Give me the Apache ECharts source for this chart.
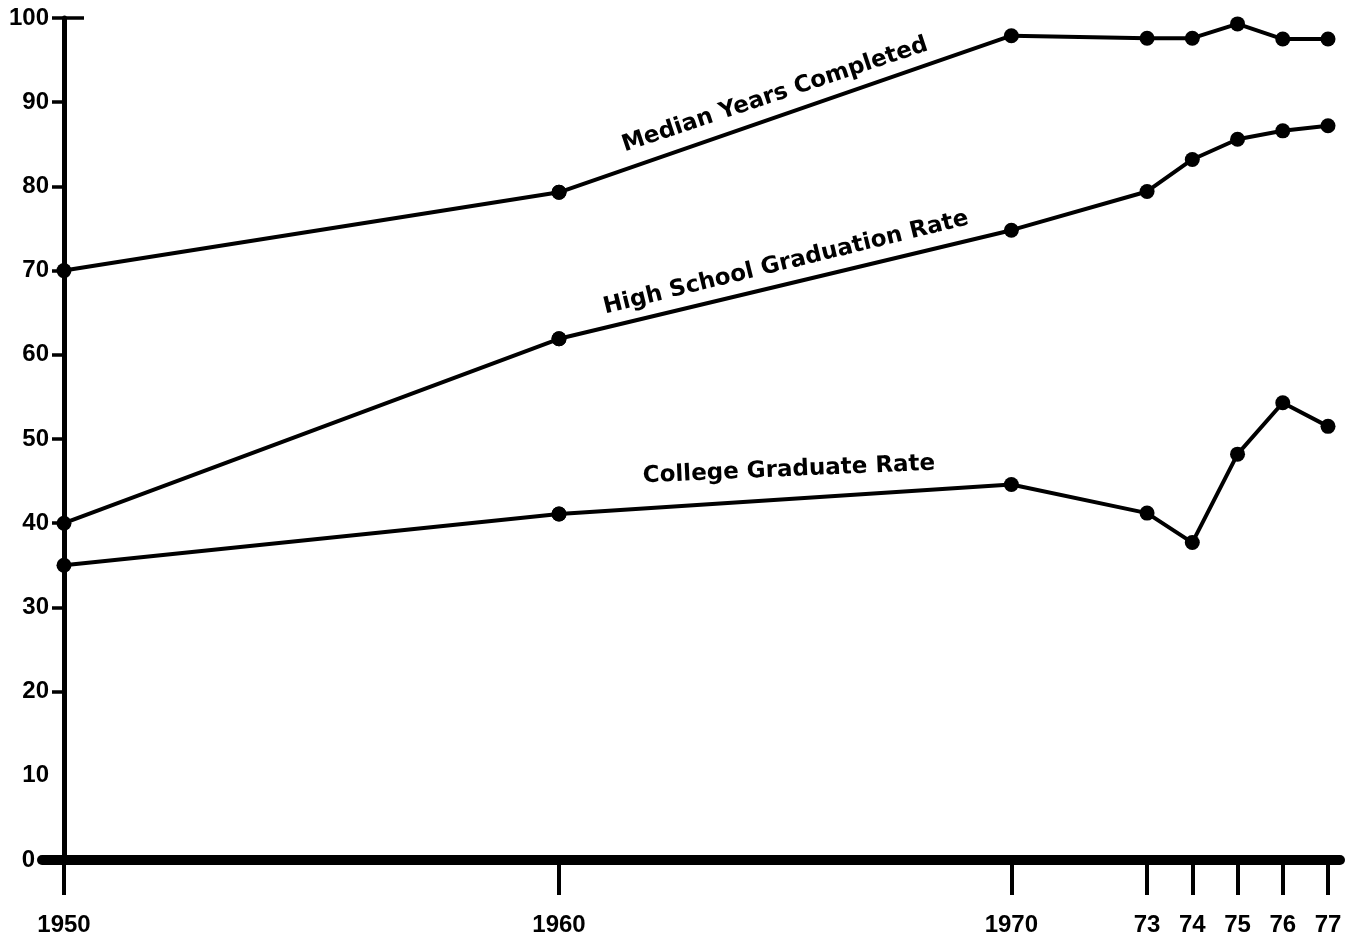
<!DOCTYPE html>
<html>
<head>
<meta charset="utf-8">
<script src="https://cdn.jsdelivr.net/npm/echarts@6/dist/echarts.min.js"></script>
<style>
  html, body { margin: 0; padding: 0; background: #fff; }
  #chart { width: 1355px; height: 942px; }
</style>
</head>
<body>
<div id="chart"></div>
<script>
// ---- data ----
const years = [1950, 1960, 1970, 1973, 1974, 1975, 1976, 1977];
const medianYearsCompleted = [70, 79.3, 97.9, 97.6, 97.6, 99.3, 97.5, 97.5];
const highSchoolGraduationRate = [40, 61.9, 74.8, 79.4, 83.2, 85.6, 86.6, 87.2];
const collegeGraduateRate = [35, 41.1, 44.6, 41.2, 37.7, 48.2, 54.3, 51.5];
const xTicksEarly = [1950, 1960];
const xTicksLate = [1970, 1973, 1974, 1975, 1976, 1977];
const yTickLabels = [0, 10, 20, 30, 40, 50, 60, 70, 80, 90, 100];
const yTickMarks = [0, 20, 30, 40, 50, 60, 70, 80, 90, 100];
const yTopCross = [100];
const seriesNames = ['Median Years Completed', 'High School Graduation Rate', 'College Graduate Rate'];
const seriesValues = [medianYearsCompleted, highSchoolGraduationRate, collegeGraduateRate];

// ---- chart ----
const chart = echarts.init(document.getElementById('chart'), null, { renderer: 'canvas' });
const labelFont = { fontFamily: 'Liberation Sans', fontWeight: 'bold', fontSize: 24, color: '#000' };

function pairs(vals, from, to) {
  const out = [];
  years.forEach((y, i) => { if (y >= from && y <= to) out.push([y, vals[i]]); });
  return out;
}

const series = [];
seriesValues.forEach((vals, k) => {
  [[0, 1950, 1960], [1, 1960, 1977]].forEach(([gi, a, b]) => {
    series.push({
      name: seriesNames[k],
      type: 'line',
      xAxisIndex: gi,
      yAxisIndex: gi,
      data: pairs(vals, a, b),
      symbol: 'circle',
      symbolSize: 15,
      lineStyle: { color: '#000', width: 4 },
      itemStyle: { color: '#000' },
      silent: true,
      animation: false,
      z: 5
    });
  });
});

const yearFmt = v => (v > 1970 ? String(v).slice(2) : String(v));
const yFmt = v => (v === 0 ? '{z|0}' : String(v));

chart.setOption({
  backgroundColor: '#fff',
  animation: false,
  grid: [
    { left: 42, top: 18, width: 517, bottom: 82 },
    { left: 559, top: 18, width: 781, bottom: 82 }
  ],
  xAxis: [
    {
      type: 'value', gridIndex: 0, min: 1949.556, max: 1960,
      axisLine: { show: true, onZero: false, lineStyle: { color: '#000', width: 10 } },
      axisTick: { show: true, customValues: xTicksEarly, length: 35, lineStyle: { color: '#000', width: 4 } },
      axisLabel: Object.assign({ customValues: xTicksEarly, margin: 53, formatter: yearFmt }, labelFont),
      splitLine: { show: false }
    },
    {
      type: 'value', gridIndex: 1, min: 1960, max: 1977.265,
      axisLine: { show: true, onZero: false, lineStyle: { color: '#000', width: 10 } },
      axisTick: { show: true, customValues: xTicksLate, length: 35, lineStyle: { color: '#000', width: 4 } },
      axisLabel: Object.assign({ customValues: xTicksLate, margin: 53, formatter: yearFmt }, labelFont),
      splitLine: { show: false }
    }
  ],
  yAxis: [
    {
      type: 'value', gridIndex: 0, position: 'left', min: 0, max: 100, offset: -22,
      axisLine: { show: true, onZero: false, lineStyle: { color: '#000', width: 5 } },
      axisTick: { show: true, customValues: yTickMarks, length: 12, lineStyle: { color: '#000', width: 3.5 } },
      axisLabel: Object.assign({
        customValues: yTickLabels, margin: 15, formatter: yFmt,
        rich: { z: { fontFamily: 'Liberation Sans', fontWeight: 'bold', fontSize: 24, color: '#000', padding: [0, 14, 0, 0] } }
      }, labelFont),
      splitLine: { show: false }
    },
    {
      type: 'value', gridIndex: 1, min: 0, max: 100, show: false,
      splitLine: { show: false }
    },
    {
      type: 'value', gridIndex: 0, position: 'left', min: 0, max: 100, offset: -22,
      axisLine: { show: false, onZero: false },
      axisTick: { show: true, inside: true, customValues: yTopCross, length: 20, lineStyle: { color: '#000', width: 3.5 } },
      axisLabel: { show: false },
      splitLine: { show: false }
    }
  ],
  graphic: [
    {
      type: 'text', x: 775, y: 95, rotation: 18.5 * Math.PI / 180,
      style: { text: 'Median Years Completed', font: 'bold 23px "DejaVu Sans"', fill: '#000', textAlign: 'center', textVerticalAlign: 'middle' }
    },
    {
      type: 'text', x: 786, y: 263, rotation: 13.8 * Math.PI / 180,
      style: { text: 'High School Graduation Rate', font: 'bold 23px "DejaVu Sans"', fill: '#000', textAlign: 'center', textVerticalAlign: 'middle' }
    },
    {
      type: 'text', x: 789, y: 470, rotation: 2.5 * Math.PI / 180,
      style: { text: 'College Graduate Rate', font: 'bold 23px "DejaVu Sans"', fill: '#000', textAlign: 'center', textVerticalAlign: 'middle' }
    }
  ],
  series: series
});
</script>
</body>
</html>
